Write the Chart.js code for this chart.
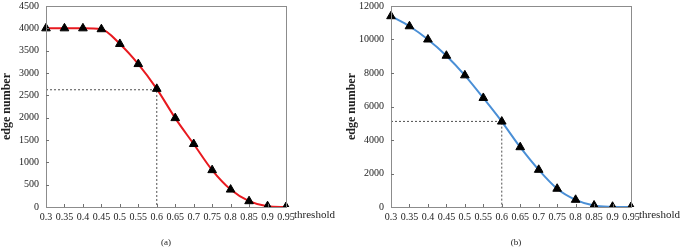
<!DOCTYPE html>
<html>
<head>
<meta charset="utf-8">
<script src="https://cdn.jsdelivr.net/npm/chart.js@4/dist/chart.umd.min.js"></script>
<style>
  body { margin: 0; background: #fff; }
  .wrap { position: absolute; top: 0; width: 340px; height: 249px; }
</style>
</head>
<body>
<div class="wrap" style="left:0"><canvas id="chartA" width="340" height="249"></canvas></div>
<div class="wrap" style="left:345px"><canvas id="chartB" width="340" height="249"></canvas></div>
<script>
var thresholds = ['0.3', '0.35', '0.4', '0.45', '0.5', '0.55', '0.6', '0.65', '0.7', '0.75', '0.8', '0.85', '0.9', '0.95'];
var edgesA = [4000, 4000, 4000, 3980, 3650, 3200, 2645, 1990, 1410, 825, 390, 130, 18, 0];
var edgesB = [11390, 10790, 10000, 9030, 7860, 6510, 5100, 3570, 2220, 1090, 430, 90, 15, 0];
var markA = 2625;
var markB = 5110;

var serif = '"Liberation Serif", "Times New Roman", serif';

// frame, inner ticks and the extra labels
var framePlugin = {
    id: 'frame',
    afterDraw: function(chart, args, opts) {
        var ctx = chart.ctx;
        var a = chart.chartArea;
        var xs = chart.scales.x, ys = chart.scales.y;
        ctx.save();
        ctx.strokeStyle = '#8c8c8c';
        ctx.lineWidth = 1;
        ctx.strokeRect(Math.round(a.left) + 0.5, Math.round(a.top) + 0.5,
            Math.round(a.right - a.left), Math.round(a.bottom - a.top));
        ctx.strokeStyle = '#707070';
        ctx.beginPath();
        for (var i = 1; i < xs.ticks.length - 1; i++) {
            var px = Math.round(xs.getPixelForTick(i)) + 0.5;
            ctx.moveTo(px, a.bottom);
            ctx.lineTo(px, a.bottom - 3);
        }
        for (var j = 1; j < ys.ticks.length - 1; j++) {
            var py = Math.round(ys.getPixelForTick(j)) + 0.5;
            ctx.moveTo(a.left, py);
            ctx.lineTo(a.left + 3, py);
        }
        ctx.stroke();
        ctx.fillStyle = '#222';
        ctx.font = '11px ' + serif;
        ctx.textAlign = 'left';
        ctx.textBaseline = 'middle';
        ctx.fillText('threshold', a.right + 8, a.bottom + 8);
        ctx.font = '9px ' + serif;
        ctx.textAlign = 'center';
        ctx.fillText(opts.caption, opts.captionX, 243);
        ctx.restore();
    }
};

function makeChart(id, values, mark, color, yMax, yStep, caption, captionX) {
    new Chart(document.getElementById(id), {
        type: 'line',
        data: {
            labels: thresholds,
            datasets: [{
                data: values,
                borderColor: color,
                borderWidth: 2,
                cubicInterpolationMode: 'monotone',
                pointStyle: 'triangle',
                pointRadius: 5,
                pointBackgroundColor: '#000',
                pointBorderColor: '#000',
                pointBorderWidth: 1,
                order: 0
            }, {
                data: [{x: '0.3', y: mark}, {x: '0.6', y: mark}, {x: '0.6', y: 0}],
                borderColor: '#222',
                borderWidth: 0.8,
                borderDash: [2, 2],
                pointRadius: 0,
                tension: 0,
                order: 1
            }]
        },
        options: {
            responsive: false,
            animation: false,
            layout: { padding: { top: 6, right: 54, left: 0, bottom: 0 } },
            plugins: {
                legend: { display: false },
                tooltip: { enabled: false },
                frame: { caption: caption, captionX: captionX }
            },
            scales: {
                x: {
                    grid: { display: false, drawTicks: false },
                    border: { display: false },
                    ticks: {
                        color: '#222',
                        font: { family: serif, size: 10 },
                        padding: 4,
                        maxRotation: 0,
                        autoSkip: false
                    },
                    afterFit: function(s) { s.height = 42; }
                },
                y: {
                    min: 0,
                    max: yMax,
                    grid: { display: false, drawTicks: false },
                    border: { display: false },
                    ticks: {
                        stepSize: yStep,
                        color: '#222',
                        font: { family: serif, size: 10 },
                        padding: 7,
                        callback: function(v) { return String(v); }
                    },
                    title: {
                        display: true,
                        text: 'edge number',
                        color: '#222',
                        font: { family: serif, size: 12, weight: 'bold' },
                        padding: 0
                    },
                    afterFit: function(s) {
                        s.width = 46;
                        s.paddingTop = 0;
                        s.paddingBottom = 0;
                    }
                }
            }
        },
        plugins: [framePlugin]
    });
}

makeChart('chartA', edgesA, markA, '#e8191f', 4500, 500, '(a)', 166);
makeChart('chartB', edgesB, markB, '#4a8fd6', 12000, 2000, '(b)', 171);
</script>
</body>
</html>
